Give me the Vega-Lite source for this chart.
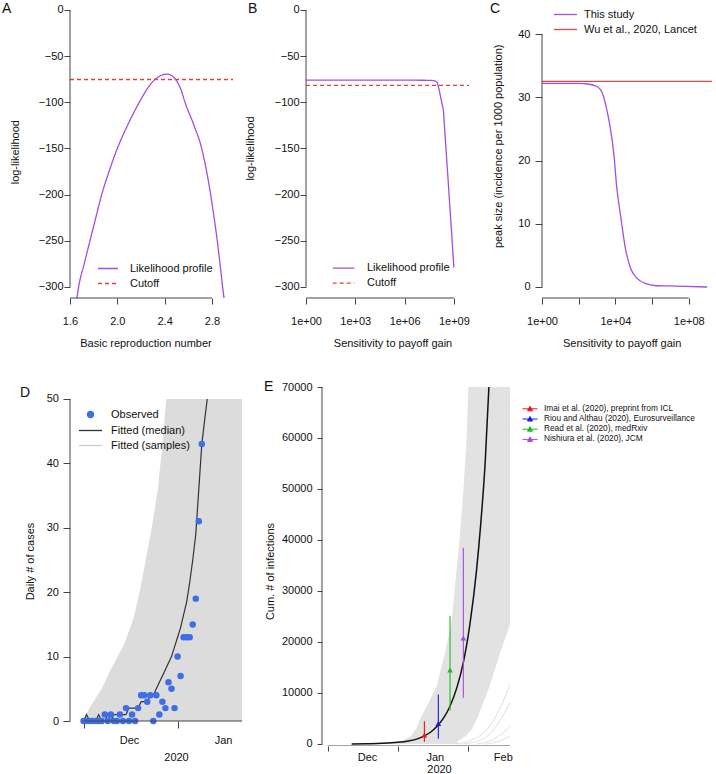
{
  "$schema": "https://vega.github.io/schema/vega-lite/v6.json",
  "padding": {"left": 2, "top": 0, "right": 2, "bottom": 0},
  "background": "white",
  "config": {
    "font": "Liberation Sans",
    "view": {"stroke": null},
    "axis": {"grid": false, "domain": false, "tickColor": "#444", "tickWidth": 1, "labelFontSize": 11, "labelColor": "#111", "titleFontSize": 11, "titleFontWeight": "normal", "titleColor": "#111", "labelOverlap": false, "labelFlush": false, "titleBaseline": "middle", "titlePadding": 0},
    "legend": {"labelFontSize": 11, "labelColor": "#111", "padding": 0, "rowPadding": 4, "symbolStrokeWidth": 1.3, "labelLimit": 400},
    "title": {"fontSize": 14, "fontWeight": "normal", "anchor": "start", "frame": "group", "color": "#111", "offset": 4}
  },
  "columns": 3,
  "align": "none",
  "bounds": "flush",
  "spacing": {"row": 89, "column": 32},
  "resolve": {"scale": {"color": "independent", "strokeDash": "independent", "x": "independent", "y": "independent"}},
  "concat": [
        {
          "width": 204, "height": 298,
          "title": {"text": "A", "dx": -68, "dy": 20},
          "layer": [
            {
              "data": {"values": [
                {"s": "Likelihood profile", "r0": 1.65, "ll": -320},
                {"s": "Likelihood profile", "r0": 1.673, "ll": -300},
                {"s": "Likelihood profile", "r0": 1.72, "ll": -275},
                {"s": "Likelihood profile", "r0": 1.769, "ll": -250},
                {"s": "Likelihood profile", "r0": 1.818, "ll": -225},
                {"s": "Likelihood profile", "r0": 1.868, "ll": -200},
                {"s": "Likelihood profile", "r0": 1.93, "ll": -175},
                {"s": "Likelihood profile", "r0": 2.0, "ll": -150},
                {"s": "Likelihood profile", "r0": 2.09, "ll": -124},
                {"s": "Likelihood profile", "r0": 2.186, "ll": -100},
                {"s": "Likelihood profile", "r0": 2.25, "ll": -86},
                {"s": "Likelihood profile", "r0": 2.3, "ll": -77.5},
                {"s": "Likelihood profile", "r0": 2.35, "ll": -72.2},
                {"s": "Likelihood profile", "r0": 2.4, "ll": -69.7},
                {"s": "Likelihood profile", "r0": 2.42, "ll": -69.5},
                {"s": "Likelihood profile", "r0": 2.45, "ll": -70.5},
                {"s": "Likelihood profile", "r0": 2.5, "ll": -76.5},
                {"s": "Likelihood profile", "r0": 2.54, "ll": -87},
                {"s": "Likelihood profile", "r0": 2.572, "ll": -100},
                {"s": "Likelihood profile", "r0": 2.645, "ll": -124},
                {"s": "Likelihood profile", "r0": 2.713, "ll": -150},
                {"s": "Likelihood profile", "r0": 2.755, "ll": -175},
                {"s": "Likelihood profile", "r0": 2.789, "ll": -200},
                {"s": "Likelihood profile", "r0": 2.818, "ll": -225},
                {"s": "Likelihood profile", "r0": 2.845, "ll": -250},
                {"s": "Likelihood profile", "r0": 2.868, "ll": -275},
                {"s": "Likelihood profile", "r0": 2.89, "ll": -300},
                {"s": "Likelihood profile", "r0": 2.91, "ll": -320},
                {"s": "Cutoff", "r0": 1.6, "ll": -75.3},
                {"s": "Cutoff", "r0": 2.978, "ll": -75.3}
              ]},
              "mark": {"type": "line", "clip": true, "strokeWidth": 1.3, "interpolate": "monotone"},
              "encoding": {
                "x": {"field": "r0", "type": "quantitative", "scale": {"domain": [1.6, 3.3244], "nice": false, "zero": false},
                      "axis": {"values": [1.6, 1.8, 2.0, 2.2, 2.4, 2.6, 2.8], "labelExpr": "round(datum.value*10) % 4 == 0 ? format(datum.value, '.1f') : ''", "title": "Basic reproduction number", "titleX": 75.5, "titleY": 45, "tickSize": 6, "labelPadding": 11}},
                "y": {"field": "ll", "type": "quantitative", "scale": {"domain": [-312, 10.8], "nice": false, "zero": false},
                      "axis": {"values": [-300, -250, -200, -150, -100, -50, 0], "title": "log-likelihood", "titleX": -55, "titleY": 151.7, "tickSize": 6, "labelPadding": 1}},
                "color": {"field": "s", "type": "nominal", "scale": {"domain": ["Likelihood profile", "Cutoff"], "range": ["#a24fe0", "#e8413c"]},
                          "legend": {"title": null, "orient": "none", "legendX": 32, "legendY": 262.5, "symbolSize": 100, "labelOffset": 16, "rowPadding": 4, "symbolType": "M-2,0H2"}},
                "strokeDash": {"field": "s", "type": "nominal", "scale": {"domain": ["Likelihood profile", "Cutoff"], "range": [[1, 0], [4, 3]]},
                          "legend": {"title": null, "orient": "none", "legendX": 32, "legendY": 262.5, "symbolSize": 100, "labelOffset": 16, "rowPadding": 4, "symbolType": "M-2,0H2"}}
              }
            },
            {"data": {"values": [{}]}, "mark": {"type": "rule", "color": "#444"},
             "encoding": {"x": {"datum": 1.6, "type": "quantitative"}, "y": {"datum": -300, "type": "quantitative"}, "y2": {"datum": 0}}},
            {"data": {"values": [{}]}, "mark": {"type": "rule", "color": "#444"},
             "encoding": {"x": {"datum": 1.6, "type": "quantitative"}, "x2": {"datum": 2.8}, "y": {"datum": -312, "type": "quantitative"}}}
          ]
        },
        {
          "width": 204, "height": 298,
          "title": {"text": "B", "dx": -58, "dy": 20},
          "layer": [
            {
              "data": {"values": [
                {"s": "Likelihood profile", "g": 1, "ll": -76},
                {"s": "Likelihood profile", "g": 1000, "ll": -76},
                {"s": "Likelihood profile", "g": 1000000, "ll": -76},
                {"s": "Likelihood profile", "g": 39810717, "ll": -76.2},
                {"s": "Likelihood profile", "g": 79432823, "ll": -77},
                {"s": "Likelihood profile", "g": 100000000, "ll": -79},
                {"s": "Likelihood profile", "g": 125892541, "ll": -86},
                {"s": "Likelihood profile", "g": 158489319, "ll": -95},
                {"s": "Likelihood profile", "g": 229086765, "ll": -108},
                {"s": "Likelihood profile", "g": 316227766, "ll": -145},
                {"s": "Likelihood profile", "g": 501187234, "ll": -198},
                {"s": "Likelihood profile", "g": 707945784, "ll": -238},
                {"s": "Likelihood profile", "g": 1000000000, "ll": -279},
                {"s": "Cutoff", "g": 1, "ll": -81.6},
                {"s": "Cutoff", "g": 8320000000, "ll": -81.6}
              ]},
              "mark": {"type": "line", "clip": true, "strokeWidth": 1.3},
              "encoding": {
                "x": {"field": "g", "type": "quantitative", "scale": {"type": "log", "domain": [1, 2.606e12], "nice": false},
                      "axis": {"values": [1, 1000, 1000000, 1000000000], "labelExpr": "'1e+' + format(round(log(datum.value)/LN10), '02d')", "title": "Sensitivity to payoff gain", "titleX": 86.5, "titleY": 45, "tickSize": 6, "labelPadding": 11}},
                "y": {"field": "ll", "type": "quantitative", "scale": {"domain": [-312, 10.8], "nice": false, "zero": false},
                      "axis": {"values": [-300, -250, -200, -150, -100, -50, 0], "title": "log-likelihood", "titleX": -56, "titleY": 148, "tickSize": 6, "labelPadding": 1}},
                "color": {"field": "s", "type": "nominal", "scale": {"domain": ["Likelihood profile", "Cutoff"], "range": ["#a24fe0", "#e8413c"]},
                          "legend": {"title": null, "orient": "none", "legendX": 31.5, "legendY": 262.2, "symbolSize": 100, "labelOffset": 17.5, "rowPadding": 4, "symbolType": "M-2.16,0H2.16"}},
                "strokeDash": {"field": "s", "type": "nominal", "scale": {"domain": ["Likelihood profile", "Cutoff"], "range": [[1, 0], [4, 3]]},
                          "legend": {"title": null, "orient": "none", "legendX": 31.5, "legendY": 262.2, "symbolSize": 100, "labelOffset": 17.5, "rowPadding": 4, "symbolType": "M-2.16,0H2.16"}}
              }
            },
            {"data": {"values": [{}]}, "mark": {"type": "rule", "color": "#444"},
             "encoding": {"x": {"datum": 1, "type": "quantitative"}, "y": {"datum": -300, "type": "quantitative"}, "y2": {"datum": 0}}},
            {"data": {"values": [{}]}, "mark": {"type": "rule", "color": "#444"},
             "encoding": {"x": {"datum": 1, "type": "quantitative"}, "x2": {"datum": 1000000000}, "y": {"datum": -312, "type": "quantitative"}}}
          ]
        },
        {
          "width": 170, "height": 298,
          "title": {"text": "C", "dx": -52, "dy": 20},
          "layer": [
            {
              "data": {"values": [
                {"s": "This study", "g": 1, "p": 32.2},
                {"s": "This study", "g": 10, "p": 32.2},
                {"s": "This study", "g": 100, "p": 32.2},
                {"s": "This study", "g": 316, "p": 32.1},
                {"s": "This study", "g": 1000, "p": 31.7},
                {"s": "This study", "g": 1445, "p": 31.3},
                {"s": "This study", "g": 1995, "p": 30.6},
                {"s": "This study", "g": 2754, "p": 29.2},
                {"s": "This study", "g": 3981, "p": 27.1},
                {"s": "This study", "g": 5129, "p": 25.4},
                {"s": "This study", "g": 8511, "p": 20.7},
                {"s": "This study", "g": 11750, "p": 15.9},
                {"s": "This study", "g": 19500, "p": 11.2},
                {"s": "This study", "g": 33900, "p": 6.4},
                {"s": "This study", "g": 63100, "p": 3.2},
                {"s": "This study", "g": 148000, "p": 1.4},
                {"s": "This study", "g": 513000, "p": 0.5},
                {"s": "This study", "g": 1820000, "p": 0.2},
                {"s": "This study", "g": 22400000, "p": 0.15},
                {"s": "This study", "g": 1000000000, "p": 0.0},
                {"s": "Wu et al., 2020, Lancet", "g": 1, "p": 32.5},
                {"s": "Wu et al., 2020, Lancet", "g": 10000000000, "p": 32.5}
              ]},
              "mark": {"type": "line", "clip": true, "strokeWidth": 1.3, "interpolate": "monotone"},
              "encoding": {
                "x": {"field": "g", "type": "quantitative", "scale": {"type": "log", "domain": [1, 1.86e9], "nice": false},
                      "axis": {"values": [1, 100, 10000, 1000000, 100000000], "labelExpr": "(datum.value == 100 || datum.value == 1000000) ? '' : '1e+' + format(round(log(datum.value)/LN10), '02d')", "title": "Sensitivity to payoff gain", "titleX": 79.7, "titleY": 45, "tickSize": 6, "labelPadding": 11}},
                "y": {"field": "p", "type": "quantitative", "scale": {"domain": [-1.74, 45.38], "nice": false, "zero": false},
                      "axis": {"values": [0, 10, 20, 30, 40], "title": "peak size (incidence per 1000 population)", "titleX": -43.7, "titleY": 145.8, "tickSize": 7, "labelPadding": 5}},
                "color": {"field": "s", "type": "nominal", "scale": {"domain": ["This study", "Wu et al., 2020, Lancet"], "range": ["#a24fe0", "#e0474a"]},
                          "legend": {"title": null, "orient": "none", "legendX": 17.5, "legendY": 8.5, "symbolSize": 100, "labelOffset": 12.5, "rowPadding": 4, "symbolType": "M-2.3,0H2.3"}}
              }
            },
            {"data": {"values": [{}]}, "mark": {"type": "rule", "color": "#444"},
             "encoding": {"x": {"datum": 1, "type": "quantitative"}, "y": {"datum": 0, "type": "quantitative"}, "y2": {"datum": 40}}},
            {"data": {"values": [{}]}, "mark": {"type": "rule", "color": "#444"},
             "encoding": {"x": {"datum": 1, "type": "quantitative"}, "x2": {"datum": 100000000}, "y": {"datum": -1.74, "type": "quantitative"}}}
          ]
        },
        {
          "width": 204, "height": 334,
          "title": {"text": "D", "dx": -50, "dy": 17},
          "layer": [
            {
              "data": {"values": [
                {"v": 0, "d": "2019-11-15T12:00"},
                {"v": 2, "d": "2019-11-18T00:00"},
                {"v": 5, "d": "2019-11-22T00:00"},
                {"v": 8, "d": "2019-11-25T00:00"},
                {"v": 12, "d": "2019-11-29T12:00"},
                {"v": 16, "d": "2019-12-02T12:00"},
                {"v": 20, "d": "2019-12-04T12:00"},
                {"v": 25, "d": "2019-12-06T12:00"},
                {"v": 30, "d": "2019-12-08T12:00"},
                {"v": 36, "d": "2019-12-10T12:00"},
                {"v": 43, "d": "2019-12-12T00:00"},
                {"v": 50, "d": "2019-12-13T07:00"}
              ]},
              "mark": {"type": "area", "orient": "horizontal", "color": "#dcdcdc", "clip": true},
              "encoding": {
                "y": {"field": "v", "type": "quantitative", "scale": {"domain": [0, 51.86], "nice": false, "zero": false},
                      "axis": {"values": [0, 10, 20, 30, 40, 50], "title": "Daily # of cases", "titleX": -40, "titleY": 174, "tickSize": 7, "labelPadding": 4.5}},
                "x": {"field": "d", "type": "temporal",
                      "scale": {"domain": [{"year": 2019, "month": 11, "date": 11, "hours": 13}, {"year": 2020, "month": 1, "date": 17, "hours": 19}], "nice": false},
                      "axis": {"values": [{"year": 2019, "month": 11, "date": 16}, {"year": 2019, "month": 12, "date": 1}, {"year": 2019, "month": 12, "date": 17}, {"year": 2020, "month": 1, "date": 1}],
                               "labelExpr": "date(datum.value) == 1 ? timeFormat(datum.value, '%b') : ''",
                               "tickOpacity": {"condition": {"test": "date(datum.value) == 1", "value": 0}, "value": 1},
                               "title": "2020", "titleX": 106, "titleY": 36, "tickSize": 7, "labelPadding": 6}},
                "x2": {"datum": {"year": 2020, "month": 1, "date": 7, "hours": 6, "minutes": 30}}
              }
            },
            {
              "data": {"values": [
                {"s": "Fitted (median)", "d": "2019-11-16T00:00", "v": 0},
                {"s": "Fitted (median)", "d": "2019-11-17T00:00", "v": 1},
                {"s": "Fitted (median)", "d": "2019-11-18T00:00", "v": 0},
                {"s": "Fitted (median)", "d": "2019-11-19T00:00", "v": 0},
                {"s": "Fitted (median)", "d": "2019-11-20T00:00", "v": 0},
                {"s": "Fitted (median)", "d": "2019-11-21T00:00", "v": 1},
                {"s": "Fitted (median)", "d": "2019-11-22T00:00", "v": 0},
                {"s": "Fitted (median)", "d": "2019-11-23T00:00", "v": 0},
                {"s": "Fitted (median)", "d": "2019-11-24T00:00", "v": 1},
                {"s": "Fitted (median)", "d": "2019-11-25T00:00", "v": 0},
                {"s": "Fitted (median)", "d": "2019-11-26T00:00", "v": 1},
                {"s": "Fitted (median)", "d": "2019-11-27T00:00", "v": 1},
                {"s": "Fitted (median)", "d": "2019-11-28T00:00", "v": 1},
                {"s": "Fitted (median)", "d": "2019-11-29T00:00", "v": 1},
                {"s": "Fitted (median)", "d": "2019-11-30T00:00", "v": 1},
                {"s": "Fitted (median)", "d": "2019-12-01T00:00", "v": 2},
                {"s": "Fitted (median)", "d": "2019-12-02T00:00", "v": 2},
                {"s": "Fitted (median)", "d": "2019-12-03T00:00", "v": 2},
                {"s": "Fitted (median)", "d": "2019-12-04T00:00", "v": 2},
                {"s": "Fitted (median)", "d": "2019-12-05T00:00", "v": 3},
                {"s": "Fitted (median)", "d": "2019-12-06T00:00", "v": 3},
                {"s": "Fitted (median)", "d": "2019-12-07T00:00", "v": 3},
                {"s": "Fitted (median)", "d": "2019-12-08T00:00", "v": 4},
                {"s": "Fitted (median)", "d": "2019-12-09T00:00", "v": 4},
                {"s": "Fitted (median)", "d": "2019-12-10T00:00", "v": 5},
                {"s": "Fitted (median)", "d": "2019-12-11T00:00", "v": 6},
                {"s": "Fitted (median)", "d": "2019-12-12T00:00", "v": 7},
                {"s": "Fitted (median)", "d": "2019-12-13T00:00", "v": 8},
                {"s": "Fitted (median)", "d": "2019-12-14T00:00", "v": 9},
                {"s": "Fitted (median)", "d": "2019-12-15T00:00", "v": 10},
                {"s": "Fitted (median)", "d": "2019-12-16T00:00", "v": 11.5},
                {"s": "Fitted (median)", "d": "2019-12-17T00:00", "v": 13},
                {"s": "Fitted (median)", "d": "2019-12-18T00:00", "v": 14.5},
                {"s": "Fitted (median)", "d": "2019-12-19T00:00", "v": 16.5},
                {"s": "Fitted (median)", "d": "2019-12-20T00:00", "v": 18.5},
                {"s": "Fitted (median)", "d": "2019-12-21T00:00", "v": 21.5},
                {"s": "Fitted (median)", "d": "2019-12-22T00:00", "v": 25},
                {"s": "Fitted (median)", "d": "2019-12-23T00:00", "v": 29},
                {"s": "Fitted (median)", "d": "2019-12-24T00:00", "v": 36},
                {"s": "Fitted (median)", "d": "2019-12-25T00:00", "v": 43},
                {"s": "Fitted (median)", "d": "2019-12-26T00:00", "v": 47},
                {"s": "Fitted (median)", "d": "2019-12-26T19:00", "v": 50}
              ]},
              "mark": {"type": "line", "clip": true, "strokeWidth": 1.2},
              "encoding": {
                "x": {"field": "d", "type": "temporal"},
                "y": {"field": "v", "type": "quantitative"},
                "color": {"field": "s", "type": "nominal", "scale": {"domain": ["Observed", "Fitted (median)", "Fitted (samples)"], "range": ["#3d6ee6", "#333333", "#cccccc"]},
                          "legend": {"title": null, "orient": "none", "legendX": 14.5, "legendY": 21.5, "symbolSize": 100, "labelOffset": 14.5, "rowPadding": 4, "symbolType": "M-2.3,0H2.3",
                                     "encode": {"symbols": {"update": {
                                        "shape": {"signal": "datum.value === 'Observed' ? 'circle' : 'M-2.3,0H2.3'"},
                                        "size": {"signal": "datum.value === 'Observed' ? 38 : 100"},
                                        "fill": {"signal": "datum.value === 'Observed' ? '#1f3fe0' : 'transparent'"},
                                        "stroke": {"signal": "datum.value === 'Observed' ? 'transparent' : (datum.value === 'Fitted (median)' ? '#333333' : '#cccccc')"},
                                        "strokeWidth": {"value": 1.3},
                                        "opacity": {"value": 1}}}}}}
              }
            },
            {
              "data": {"values": [
                {"s": "Observed", "d": "2019-11-16T00:00", "v": 0},
                {"s": "Observed", "d": "2019-11-17T00:00", "v": 0},
                {"s": "Observed", "d": "2019-11-18T00:00", "v": 0},
                {"s": "Observed", "d": "2019-11-19T00:00", "v": 0},
                {"s": "Observed", "d": "2019-11-20T00:00", "v": 0},
                {"s": "Observed", "d": "2019-11-21T00:00", "v": 0},
                {"s": "Observed", "d": "2019-11-22T00:00", "v": 0},
                {"s": "Observed", "d": "2019-11-23T00:00", "v": 1},
                {"s": "Observed", "d": "2019-11-24T00:00", "v": 0},
                {"s": "Observed", "d": "2019-11-25T00:00", "v": 1},
                {"s": "Observed", "d": "2019-11-26T00:00", "v": 0},
                {"s": "Observed", "d": "2019-11-27T00:00", "v": 0},
                {"s": "Observed", "d": "2019-11-28T00:00", "v": 1},
                {"s": "Observed", "d": "2019-11-29T00:00", "v": 0},
                {"s": "Observed", "d": "2019-11-30T00:00", "v": 2},
                {"s": "Observed", "d": "2019-12-01T00:00", "v": 0},
                {"s": "Observed", "d": "2019-12-02T00:00", "v": 1},
                {"s": "Observed", "d": "2019-12-03T00:00", "v": 0},
                {"s": "Observed", "d": "2019-12-04T00:00", "v": 2},
                {"s": "Observed", "d": "2019-12-05T00:00", "v": 4},
                {"s": "Observed", "d": "2019-12-06T00:00", "v": 4},
                {"s": "Observed", "d": "2019-12-07T00:00", "v": 3},
                {"s": "Observed", "d": "2019-12-08T00:00", "v": 4},
                {"s": "Observed", "d": "2019-12-09T00:00", "v": 0},
                {"s": "Observed", "d": "2019-12-10T00:00", "v": 4},
                {"s": "Observed", "d": "2019-12-11T00:00", "v": 1},
                {"s": "Observed", "d": "2019-12-12T00:00", "v": 3},
                {"s": "Observed", "d": "2019-12-13T00:00", "v": 2},
                {"s": "Observed", "d": "2019-12-14T00:00", "v": 6},
                {"s": "Observed", "d": "2019-12-15T00:00", "v": 5},
                {"s": "Observed", "d": "2019-12-16T00:00", "v": 2},
                {"s": "Observed", "d": "2019-12-17T00:00", "v": 10},
                {"s": "Observed", "d": "2019-12-18T00:00", "v": 7},
                {"s": "Observed", "d": "2019-12-19T00:00", "v": 13},
                {"s": "Observed", "d": "2019-12-20T00:00", "v": 13},
                {"s": "Observed", "d": "2019-12-21T00:00", "v": 13},
                {"s": "Observed", "d": "2019-12-22T00:00", "v": 15},
                {"s": "Observed", "d": "2019-12-23T00:00", "v": 19},
                {"s": "Observed", "d": "2019-12-24T00:00", "v": 31},
                {"s": "Observed", "d": "2019-12-25T00:00", "v": 43}
              ]},
              "mark": {"type": "point", "filled": true, "size": 42, "opacity": 1},
              "encoding": {
                "x": {"field": "d", "type": "temporal"},
                "y": {"field": "v", "type": "quantitative"},
                "color": {"field": "s", "type": "nominal", "scale": {"domain": ["Observed", "Fitted (median)", "Fitted (samples)"], "range": ["#3d6ee6", "#333333", "#cccccc"]},
                          "legend": {"title": null, "orient": "none", "legendX": 14.5, "legendY": 21.5, "symbolSize": 100, "labelOffset": 14.5, "rowPadding": 4, "symbolType": "M-2.3,0H2.3",
                                     "encode": {"symbols": {"update": {
                                        "shape": {"signal": "datum.value === 'Observed' ? 'circle' : 'M-2.3,0H2.3'"},
                                        "size": {"signal": "datum.value === 'Observed' ? 38 : 100"},
                                        "fill": {"signal": "datum.value === 'Observed' ? '#1f3fe0' : 'transparent'"},
                                        "stroke": {"signal": "datum.value === 'Observed' ? 'transparent' : (datum.value === 'Fitted (median)' ? '#333333' : '#cccccc')"},
                                        "strokeWidth": {"value": 1.3},
                                        "opacity": {"value": 1}}}}}}
              }
            },
            {"data": {"values": [{}]}, "mark": {"type": "rule", "color": "#444"},
             "encoding": {"x": {"datum": {"year": 2019, "month": 11, "date": 11, "hours": 13}, "type": "temporal"}, "y": {"datum": 0, "type": "quantitative"}, "y2": {"datum": 50}}},
            {"data": {"values": [{}]}, "mark": {"type": "rule", "color": "#444"},
             "encoding": {"x": {"datum": {"year": 2019, "month": 11, "date": 16}, "type": "temporal"}, "x2": {"datum": {"year": 2020, "month": 1, "date": 7, "hours": 6, "minutes": 30}}, "y": {"datum": 0, "type": "quantitative"}}}
          ]
        },
        {
          "width": 204, "height": 359,
          "title": {"text": "E", "dx": -42, "dy": 17},
          "layer": [
            {
              "data": {"values": [
                {"v": 0, "l": "2019-11-24T00:00", "r": "2020-01-12T00:00"},
                {"v": 450, "l": "2019-12-16T00:00", "r": "2020-01-11T00:00"},
                {"v": 1500, "l": "2019-12-21T00:00", "r": "2020-01-15T00:00"},
                {"v": 3000, "l": "2019-12-23T12:00", "r": "2020-01-18T00:00"},
                {"v": 4700, "l": "2019-12-25T00:00", "r": "2020-01-20T00:00"},
                {"v": 8000, "l": "2019-12-29T00:00", "r": "2020-01-23T00:00"},
                {"v": 11300, "l": "2020-01-01T19:00", "r": "2020-01-26T00:00"},
                {"v": 17800, "l": "2020-01-05T14:00", "r": "2020-01-30T17:00"},
                {"v": 24300, "l": "2020-01-08T17:00", "r": "2020-02-05T00:00"},
                {"v": 30200, "l": "2020-01-10T00:00", "r": "2020-02-05T00:00"},
                {"v": 40000, "l": "2020-01-12T06:00", "r": "2020-02-05T00:00"},
                {"v": 49800, "l": "2020-01-14T00:00", "r": "2020-02-05T00:00"},
                {"v": 60000, "l": "2020-01-15T12:00", "r": "2020-02-05T00:00"},
                {"v": 70400, "l": "2020-01-16T08:00", "r": "2020-02-05T00:00"}
              ]},
              "mark": {"type": "area", "orient": "horizontal", "color": "#e2e2e2", "clip": true},
              "encoding": {
                "y": {"field": "v", "type": "quantitative", "scale": {"domain": [-400, 70000], "nice": false, "zero": false},
                      "axis": {"values": [0, 10000, 20000, 30000, 40000, 50000, 60000, 70000], "format": "d", "offset": -16, "title": "Cum. # of infections", "titleX": -52, "titleY": 184, "tickSize": 5, "labelPadding": 5}},
                "x": {"field": "l", "type": "temporal",
                      "scale": {"domain": [{"year": 2019, "month": 11, "date": 3, "hours": 4}, {"year": 2020, "month": 2, "date": 4, "hours": 7}], "nice": false},
                      "axis": {"values": [{"year": 2019, "month": 11, "date": 13}, {"year": 2019, "month": 12, "date": 1}, {"year": 2019, "month": 12, "date": 15}, {"year": 2020, "month": 1, "date": 1}, {"year": 2020, "month": 1, "date": 16}, {"year": 2020, "month": 2, "date": 1}],
                               "labelExpr": "date(datum.value) == 1 ? timeFormat(datum.value, '%b') : ''",
                               "tickOpacity": {"condition": {"test": "date(datum.value) == 1", "value": 0}, "value": 1},
                               "title": "2020", "titleX": 133, "titleY": 23, "tickSize": 5, "labelPadding": 0}},
                "x2": {"field": "r"}
              }
            },
            {
              "data": {"values": [
                {"id": "a", "d": "2020-01-10T00:00", "v": 0},
                {"id": "a", "d": "2020-01-18T00:00", "v": 800},
                {"id": "a", "d": "2020-01-24T00:00", "v": 2500},
                {"id": "a", "d": "2020-01-28T00:00", "v": 4800},
                {"id": "a", "d": "2020-02-01T00:00", "v": 8200},
                {"id": "a", "d": "2020-02-05T00:00", "v": 12500},
                {"id": "b", "d": "2020-01-14T00:00", "v": 0},
                {"id": "b", "d": "2020-01-22T00:00", "v": 800},
                {"id": "b", "d": "2020-01-27T00:00", "v": 2400},
                {"id": "b", "d": "2020-01-31T00:00", "v": 4800},
                {"id": "b", "d": "2020-02-05T00:00", "v": 8700},
                {"id": "c", "d": "2020-01-20T00:00", "v": 0},
                {"id": "c", "d": "2020-01-26T00:00", "v": 600},
                {"id": "c", "d": "2020-01-30T00:00", "v": 1500},
                {"id": "c", "d": "2020-02-05T00:00", "v": 3700},
                {"id": "d", "d": "2020-01-24T00:00", "v": 0},
                {"id": "d", "d": "2020-01-30T00:00", "v": 500},
                {"id": "d", "d": "2020-02-05T00:00", "v": 1700}
              ]},
              "mark": {"type": "line", "clip": true, "strokeWidth": 1, "color": "#e0e0e0", "interpolate": "monotone"},
              "encoding": {
                "x": {"field": "d", "type": "temporal"},
                "y": {"field": "v", "type": "quantitative"},
                "detail": {"field": "id", "type": "nominal"}
              }
            },
            {
              "data": {"values": [
                {"d": "2019-11-24T00:00", "v": 0},
                {"d": "2019-12-01T00:00", "v": 50},
                {"d": "2019-12-08T00:00", "v": 130},
                {"d": "2019-12-15T00:00", "v": 320},
                {"d": "2019-12-20T00:00", "v": 600},
                {"d": "2019-12-24T00:00", "v": 1000},
                {"d": "2019-12-27T00:00", "v": 1550},
                {"d": "2019-12-30T00:00", "v": 2300},
                {"d": "2020-01-02T00:00", "v": 3450},
                {"d": "2020-01-05T00:00", "v": 5100},
                {"d": "2020-01-08T00:00", "v": 7500},
                {"d": "2020-01-11T00:00", "v": 11000},
                {"d": "2020-01-14T00:00", "v": 16000},
                {"d": "2020-01-17T00:00", "v": 23500},
                {"d": "2020-01-20T00:00", "v": 34000},
                {"d": "2020-01-22T00:00", "v": 43500},
                {"d": "2020-01-24T00:00", "v": 55500},
                {"d": "2020-01-26T00:00", "v": 73000}
              ]},
              "mark": {"type": "line", "clip": true, "strokeWidth": 1.5, "color": "#111111", "interpolate": "monotone"},
              "encoding": {
                "x": {"field": "d", "type": "temporal"},
                "y": {"field": "v", "type": "quantitative"}
              }
            },
            {
              "data": {"values": [
                {"study": "Imai et al. (2020), preprint from ICL", "d": "2019-12-27T05:00", "v": 1723, "lo": 427, "hi": 4471},
                {"study": "Riou and Althau (2020), Eurosurveillance", "d": "2020-01-02T14:00", "v": 4000, "lo": 1000, "hi": 9700},
                {"study": "Read et al. (2020), medRxiv", "d": "2020-01-07T22:00", "v": 14500, "lo": 6500, "hi": 25100},
                {"study": "Nishiura et al. (2020), JCM", "d": "2020-01-14T00:00", "v": 20767, "lo": 9056, "hi": 38497}
              ]},
              "layer": [
                {
                  "mark": {"type": "rule", "strokeWidth": 1.1},
                  "encoding": {
                    "x": {"field": "d", "type": "temporal"},
                    "y": {"field": "lo", "type": "quantitative"},
                    "y2": {"field": "hi"},
                    "color": {"field": "study", "type": "nominal",
                              "scale": {"domain": ["Imai et al. (2020), preprint from ICL", "Riou and Althau (2020), Eurosurveillance", "Read et al. (2020), medRxiv", "Nishiura et al. (2020), JCM"], "range": ["#e8161b", "#1c1cdc", "#22bb22", "#a64ce0"]},
                              "legend": {"title": null, "orient": "none", "legendX": 218.5, "legendY": 16.3, "symbolSize": 100, "labelOffset": 8.5, "labelFontSize": 8.3, "rowPadding": 0.2,
                                         "symbolType": "M-1.5,0H1.5M-0.5,0.4L0,-0.5L0.5,0.4Z",
                                         "encode": {"symbols": {"update": {
                                            "shape": {"value": "M-1.5,0H1.5M-0.5,0.4L0,-0.5L0.5,0.4Z"},
                                            "fill": {"signal": "indexof(datum.value,'Imai')>=0 ? '#e8161b' : indexof(datum.value,'Riou')>=0 ? '#1c1cdc' : indexof(datum.value,'Read')>=0 ? '#22bb22' : '#a64ce0'"},
                                            "stroke": {"signal": "indexof(datum.value,'Imai')>=0 ? '#e8161b' : indexof(datum.value,'Riou')>=0 ? '#1c1cdc' : indexof(datum.value,'Read')>=0 ? '#22bb22' : '#a64ce0'"},
                                            "strokeWidth": {"value": 1},
                                            "opacity": {"value": 1}}}}}}
                  }
                },
                {
                  "mark": {"type": "point", "shape": "triangle-up", "filled": true, "size": 32, "opacity": 1},
                  "encoding": {
                    "x": {"field": "d", "type": "temporal"},
                    "y": {"field": "v", "type": "quantitative"},
                    "color": {"field": "study", "type": "nominal",
                              "scale": {"domain": ["Imai et al. (2020), preprint from ICL", "Riou and Althau (2020), Eurosurveillance", "Read et al. (2020), medRxiv", "Nishiura et al. (2020), JCM"], "range": ["#e8161b", "#1c1cdc", "#22bb22", "#a64ce0"]},
                              "legend": {"title": null, "orient": "none", "legendX": 218.5, "legendY": 16.3, "symbolSize": 100, "labelOffset": 8.5, "labelFontSize": 8.3, "rowPadding": 0.2,
                                         "symbolType": "M-1.5,0H1.5M-0.5,0.4L0,-0.5L0.5,0.4Z",
                                         "encode": {"symbols": {"update": {
                                            "shape": {"value": "M-1.5,0H1.5M-0.5,0.4L0,-0.5L0.5,0.4Z"},
                                            "fill": {"signal": "indexof(datum.value,'Imai')>=0 ? '#e8161b' : indexof(datum.value,'Riou')>=0 ? '#1c1cdc' : indexof(datum.value,'Read')>=0 ? '#22bb22' : '#a64ce0'"},
                                            "stroke": {"signal": "indexof(datum.value,'Imai')>=0 ? '#e8161b' : indexof(datum.value,'Riou')>=0 ? '#1c1cdc' : indexof(datum.value,'Read')>=0 ? '#22bb22' : '#a64ce0'"},
                                            "strokeWidth": {"value": 1},
                                            "opacity": {"value": 1}}}}}}
                  }
                }
              ]
            },
            {"data": {"values": [{}]}, "mark": {"type": "rule", "color": "#444"},
             "encoding": {"x": {"datum": {"year": 2019, "month": 11, "date": 10, "hours": 11}, "type": "temporal"}, "y": {"datum": 0, "type": "quantitative"}, "y2": {"datum": 70000}}},
            {"data": {"values": [{}]}, "mark": {"type": "rule", "color": "#444", "clip": true},
             "encoding": {"x": {"datum": {"year": 2019, "month": 11, "date": 13}, "type": "temporal"}, "x2": {"datum": {"year": 2020, "month": 2, "date": 5}}, "y": {"datum": -400, "type": "quantitative"}}}
          ]
        }
  ]
}
